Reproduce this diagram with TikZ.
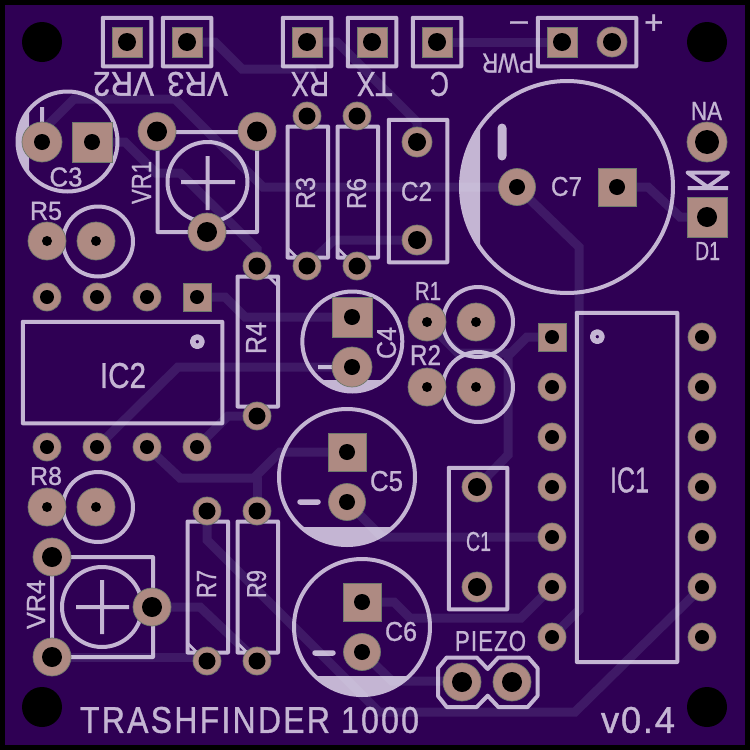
\documentclass[tikz,border=0pt]{standalone}
\usepackage{fontspec}
\setmainfont{Liberation Sans}
\newfontfamily\silkfont[FakeBold=1]{Liberation Sans}
\definecolor{boardc}{HTML}{2F0054}
\definecolor{tracec}{HTML}{3F1966}
\definecolor{silkc}{HTML}{EEE9F7}
\definecolor{padc}{HTML}{AE8A82}
\definecolor{padedge}{HTML}{6F7A6C}
\tikzset{
  trace/.style={draw=tracec,line width=9pt,line join=miter,line cap=round},
  silk/.style={draw=silkc,line width=4pt,line join=round},
  silkfill/.style={fill=silkc},
  silklabel/.style={text=silkc,inner sep=0pt,outer sep=0pt,anchor=center,font=\silkfont},
  padshape/.style={fill=padc,draw=padedge,line width=.7pt},
  holeshape/.style={fill=black}
}
\newcommand{\lab}[7]{\node[silklabel,rotate=#4] (#1) at (#2,#3) {\resizebox{#5pt}{#6pt}{#7}};}
% round pad: x,y,outer r,hole r
\newcommand{\rpad}[4]{\fill[padshape] (#1,#2) circle[radius=#3pt];\fill[holeshape] (#1,#2) circle[radius=#4pt];}
% square pad: x,y,half,hole r
\newcommand{\qpad}[4]{\path[padshape] ({#1-#3},{#2-#3}) rectangle ({#1+#3},{#2+#3});\fill[holeshape] (#1,#2) circle[radius=#4pt];}
\begin{document}
\begin{tikzpicture}[x=1pt,y=-1pt]
\useasboundingbox (0,0) rectangle (750,750);
\fill[black] (0,0) rectangle (750,750);
\fill[boardc] (5,5) rectangle (745,745);
% traces
\draw[trace] (187,42) -- (215,42) -- (242,69) -- (312,69);
\draw[trace] (307,42) -- (337,42) -- (417,122) -- (417,142);
\draw[trace] (437,42) -- (562,42);
\draw[trace] (42,142) -- (42,131) -- (74,99) -- (175,99) -- (263,187) -- (517,187);
\draw[trace] (92,142) -- (125,142) -- (156,173) -- (180,173) -- (257,249) -- (257,266);
\draw[trace] (307,266) -- (334,240) -- (417,240);
\draw[trace] (517,187) -- (579,247) -- (579,610) -- (552,637);
\draw[trace] (617,187) -- (648,187) -- (680,217) -- (707,217);
\draw[trace] (552,337) -- (527,337) -- (508,356) -- (508,455) -- (477,487);
\draw[trace] (427,322) -- (458,353) -- (508,353);
\draw[trace] (197,297) -- (225,297) -- (245,317) -- (352,317);
\draw[trace] (352,367) -- (178,367) -- (97,447);
\draw[trace] (197,447) -- (228,416) -- (257,416);
\draw[trace] (147,447) -- (180,478) -- (254,478) -- (280,452) -- (347,452);
\draw[trace] (257,478) -- (257,511);
\draw[trace] (207,511) -- (207,540) -- (379,712) -- (575,712) -- (702,587);
\draw[trace] (152,607) -- (200,607) -- (257,661);
\draw[trace] (52,657) -- (207,657);
\draw[trace] (347,502) -- (382,537) -- (552,537);
\draw[trace] (362,602) -- (394,602) -- (410,618) -- (521,618) -- (552,587);
\draw[trace] (362,652) -- (392,681) -- (462,681);
% silk
\begin{scope}[transparency group,opacity=.78]
\foreach \hx in {127,187,307,372,437}{\draw[silk] ({\hx-24.25},17.75) rectangle ({\hx+24.25},66.25);}
\draw[silk] (537.75,17.75) rectangle (636.25,66.25);
% capacitors
\draw[silk] (67.5,141.5) circle[radius=50pt];
\begin{scope}\clip (67.5,141.5) circle[radius=50pt];\fill[silkfill] (0,80) rectangle (29,200);\end{scope}
\draw[silk] (42,107) -- (42,125);
\draw[silk] (352.3,341.5) circle[radius=50pt];
\begin{scope}\clip (352.3,341.5) circle[radius=50pt];\fill[silkfill] (290,380) rectangle (410,400);\end{scope}
\draw[silk] (318,367) -- (335,367);
\draw[silk] (347,477) circle[radius=68pt];
\begin{scope}\clip (347,477) circle[radius=68pt];\fill[silkfill] (270,527) rectangle (420,550);\end{scope}
\draw[silk,line width=5.5pt,line cap=round] (300,502) -- (318,502);
\draw[silk] (362,627) circle[radius=68pt];
\begin{scope}\clip (362,627) circle[radius=68pt];\fill[silkfill] (285,676) rectangle (440,700);\end{scope}
\draw[silk,line width=5.5pt,line cap=round] (315,653) -- (333,653);
\draw[silk] (567,187) circle[radius=106pt];
\begin{scope}\clip (567,187) circle[radius=106pt];\fill[silkfill] (450,70) rectangle (480,300);\end{scope}
\draw[silk,line width=9pt,line cap=round] (502,128) -- (502,156);
% film caps
\draw[silk] (388.75,119.75) rectangle (447.25,262.25);
\draw[silk] (448.75,467.75) rectangle (507.25,609.25);
% trimmers
\draw[silk] (157.5,132) rectangle (257,232);
\draw[silk] (207.5,182) circle[radius=40pt];
\draw[silk] (181,182) -- (235,182);
\draw[silk] (207.5,156) -- (207.5,210);
\draw[silk] (52,557) rectangle (153,657);
\draw[silk] (102,607) circle[radius=40pt];
\draw[silk] (76,607) -- (129,607);
\draw[silk] (102,580) -- (102,634);
% resistor rings
\draw[silk] (98,241.5) circle[radius=35pt];
\draw[silk] (98,507) circle[radius=35pt];
\draw[silk] (478,322) circle[radius=35pt];
\draw[silk] (478,387) circle[radius=35pt];
% resistor bodies
\draw[silk] (287.5,126.5) rectangle (328,257.5);
\draw[silk,line width=2.5pt] (287.5,248) -- (297,257.5);
\draw[silk] (337.5,126.5) rectangle (378,257.5);
\draw[silk,line width=2.5pt] (337.5,248) -- (347,257.5);
\draw[silk] (237.5,276.5) rectangle (278,406.5);
\draw[silk,line width=2.5pt] (278,286) -- (268.5,276.5);
\draw[silk] (187.5,521.5) rectangle (228,652.5);
\draw[silk,line width=2.5pt] (187.5,643) -- (197,652.5);
\draw[silk] (237.5,521.5) rectangle (278,652.5);
\draw[silk,line width=2.5pt] (237.5,643) -- (247,652.5);
% ICs
\draw[silk] (22.75,321.75) rectangle (222.25,423.25);
\draw[silk,line width=5.5pt] (197.3,341.7) circle[radius=4.75pt];
\draw[silk] (576.75,312.75) rectangle (677.25,662);
\draw[silk,line width=5.5pt] (597.3,336.7) circle[radius=4.75pt];
% piezo outline
\draw[silk] (446.7,657.5) -- (476.7,657.5) -- (487.7,669) -- (498.3,657.5) -- (528.3,657.5) -- (537.5,668) -- (537.5,696) -- (527.7,707) -- (498.3,707) -- (487.7,695.7) -- (476.7,707) -- (446.7,707) -- (438,696) -- (438,668) -- cycle;
% diode
\draw[silk,line width=4pt] (687.5,172.5) -- (728,172.5) -- (707.5,187) -- cycle;
\draw[silk,line width=4pt] (687.5,188) -- (728,188);
% labels
\lab{lvrtwo}{123.5}{84}{180}{61}{24}{VR2}
\lab{lvrthree}{197.5}{84}{180}{61}{24}{VR3}
\lab{lrx}{310}{84}{180}{38}{24}{RX}
\lab{ltx}{374.5}{84}{180}{36}{24}{TX}
\lab{lc}{439.5}{84}{180}{19}{24}{C}
\lab{lpwr}{508}{63}{180}{52}{19}{PWR}
\lab{lcthree}{66}{177}{0}{33}{19}{C3}
\lab{lvrone}{141.5}{182.5}{90}{43}{19}{VR1}
\lab{lrfive}{46}{211}{0}{32}{18}{R5}
\lab{lrthree}{305.5}{193}{90}{32}{19}{R3}
\lab{lrsix}{356.5}{193.5}{90}{31}{19}{R6}
\lab{lrfour}{256}{338}{90}{32}{20}{R4}
\lab{lctwo}{416.5}{191.5}{0}{31}{19}{C2}
\lab{lcseven}{566.5}{186.5}{0}{31}{19}{C7}
\lab{lna}{706.5}{111}{0}{31}{18}{NA}
\lab{ldone}{707.5}{251}{0}{25}{18}{D1}
\lab{lrone}{428}{291}{0}{26}{18}{R1}
\lab{lrtwo}{425.5}{355}{0}{31}{20}{R2}
\lab{lcfour}{386.5}{343}{90}{32}{19}{C4}
\lab{licone}{629.5}{480}{0}{39}{25}{IC1}
\lab{lictwo}{123}{375.5}{0}{46}{25}{IC2}
\lab{lcfive}{386.5}{481}{0}{33}{20}{C5}
\lab{lreight}{46}{476}{0}{32}{18}{R8}
\lab{lvrfour}{36}{604.5}{90}{49}{18}{VR4}
\lab{lrseven}{206.5}{584}{90}{28}{19}{R7}
\lab{lrnine}{256.5}{584}{90}{28}{19}{R9}
\lab{lcsix}{401}{631.5}{0}{32}{19}{C6}
\lab{lcone}{478.5}{541.5}{0}{25}{19}{C1}
\lab{lpiezo}{490.5}{641}{0}{71}{20}{\addfontfeature{LetterSpace=5}PIEZO}
\lab{ltitle}{249.5}{720}{0}{339}{26}{\addfontfeature{LetterSpace=7}TRASHFINDER 1000}
\lab{lver}{638}{720}{0}{74}{26}{\addfontfeature{LetterSpace=5}v0.4}
\node[text=silkc,inner sep=0pt,anchor=base,font=\fontsize{33}{33}\silkfont] (lplus) at (653.8,33.5) {+};
\node[text=silkc,inner sep=0pt,anchor=base,font=\fontsize{31}{31}\silkfont] (lminus) at (519,30.5) {–};
\end{scope}
% mounting holes
\foreach \mx/\my in {42/42,707/42,42/707,707/707}{\fill[black] (\mx,\my) circle[radius=20pt];}
% pads: headers
\foreach \hx in {127,187,307,372,437,562}{\qpad{\hx}{42}{15}{9}}
\rpad{612}{42}{15}{9}
% C3, C4, C5, C6, C7
\rpad{42}{142}{20}{8}\qpad{92}{142}{20}{8}
\qpad{352}{317}{20}{8}\rpad{352}{367}{20}{8}
\qpad{347}{452}{19}{8}\rpad{347}{502}{18.5}{8}
\qpad{362}{602}{19}{8}\rpad{362}{652}{18.5}{8}
\rpad{517}{187}{18.5}{8}\qpad{617}{187}{19}{8}
% C1, C2
\rpad{417}{142}{15}{9}\rpad{417}{240}{15}{9}
\rpad{477}{487}{15}{9}\rpad{477}{587}{15}{9}
% trimmers
\rpad{157}{131.5}{19}{10}\rpad{257}{131.5}{19}{10}\rpad{207}{232}{19}{10}
\rpad{52}{557}{19}{10}\rpad{52}{657}{19}{10}\rpad{152}{607}{19}{10}
% ring resistors
\rpad{47}{241}{19}{5}\rpad{96}{241}{19}{5}
\rpad{47}{507}{19}{5}\rpad{96}{507}{19}{5}
\rpad{427}{322}{19}{5}\rpad{476}{322}{19}{5}
\rpad{427}{387}{19}{5}\rpad{476}{387}{19}{5}
% axial resistors
\foreach \rx/\ry in {307/116,307/266,357/116,357/266,257/266,257/416,207/511,207/661,257/511,257/661}{\rpad{\rx}{\ry}{14}{8.5}}
% IC2
\foreach \px in {47,97,147}{\rpad{\px}{297}{14}{7}}
\qpad{197}{297}{14}{7}
\foreach \px in {47,97,147,197}{\rpad{\px}{447}{14}{7}}
% IC1
\qpad{552}{337}{14}{7}
\foreach \py in {387,437,487,537,587,637}{\rpad{552}{\py}{14}{7}}
\foreach \py in {337,387,437,487,537,587,637}{\rpad{702}{\py}{14}{7}}
% NA, D1
\rpad{707}{142}{20}{12}\qpad{707}{217}{20}{10}
% piezo
\rpad{462}{682}{19}{10}\rpad{512}{682}{19}{10}
\end{tikzpicture}
\end{document}
